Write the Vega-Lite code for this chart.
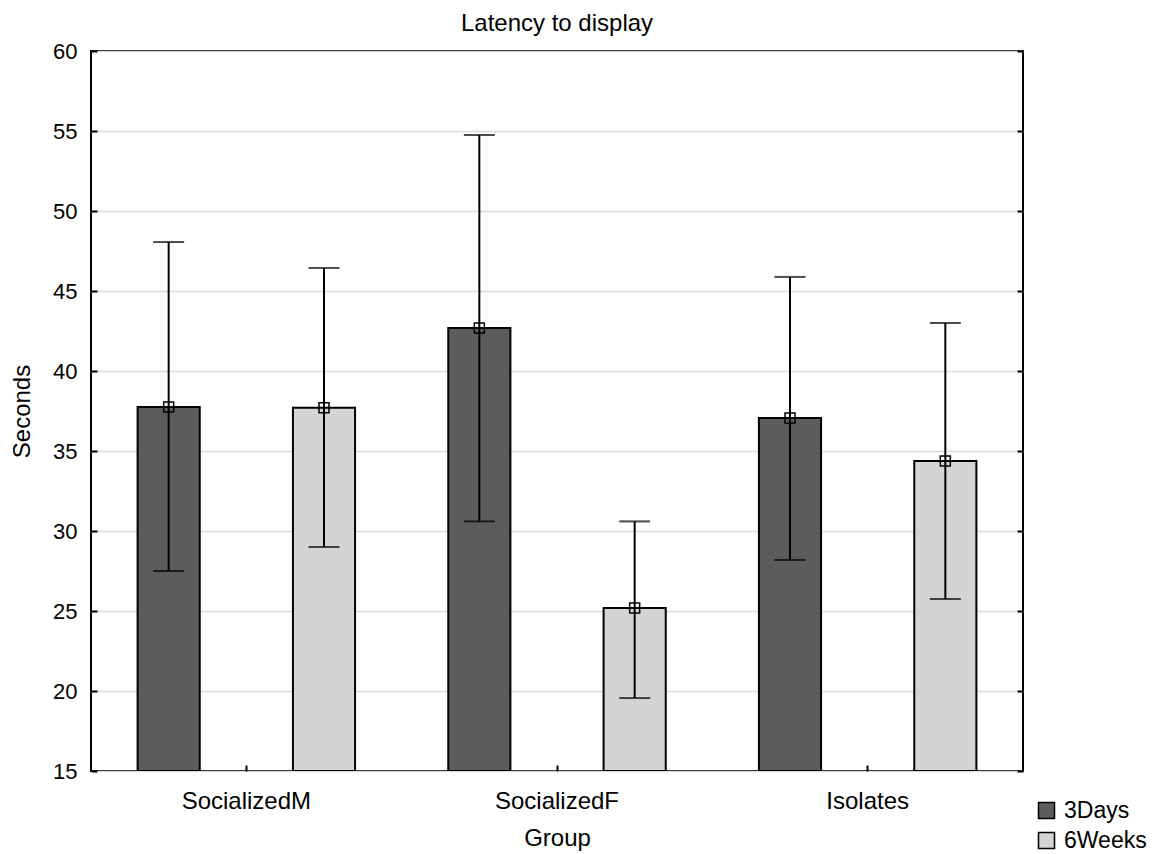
{
  "$schema": "https://vega.github.io/schema/vega-lite/v6.json",
  "width": 932,
  "height": 720,
  "autosize": "none",
  "padding": {"left": 91, "top": 51, "right": 135, "bottom": 83},
  "title": {"text": "Latency to display", "fontSize": 24, "font": "Liberation Sans", "fontWeight": "normal", "color": "#000000", "offset": 4, "anchor": "middle"},
  "config": {
    "font": "Liberation Sans",
    "view": {"stroke": "#000000", "strokeWidth": 2},
    "axis": {"labelFont": "Liberation Sans", "titleFont": "Liberation Sans", "labelColor": "#000000", "titleColor": "#000000", "labelFontSize": 22, "titleFontSize": 24, "titleFontWeight": "normal", "tickColor": "#000000", "tickWidth": 2, "domain": false}
  },
  "data": {
    "values": [
      {"group": "SocializedM", "time": "3Days", "mean": 37.75, "lo": 27.5, "hi": 48.06},
      {"group": "SocializedM", "time": "6Weeks", "mean": 37.7, "lo": 29.0, "hi": 46.44},
      {"group": "SocializedF", "time": "3Days", "mean": 42.69, "lo": 30.6, "hi": 54.75},
      {"group": "SocializedF", "time": "6Weeks", "mean": 25.19, "lo": 19.56, "hi": 30.6},
      {"group": "Isolates", "time": "3Days", "mean": 37.06, "lo": 28.19, "hi": 45.88},
      {"group": "Isolates", "time": "6Weeks", "mean": 34.38, "lo": 25.75, "hi": 43.0}
    ]
  },
  "encoding": {
    "x": {"field": "group", "type": "nominal", "sort": ["SocializedM", "SocializedF", "Isolates"], "scale": {"paddingInner": 0, "paddingOuter": 0}, "title": "Group",
      "axis": {"labelAngle": 0, "tickSize": -6, "labelPadding": 24, "titlePadding": 13, "grid": false, "labelFontSize": 24}},
    "xOffset": {"field": "time", "type": "nominal", "sort": ["3Days", "6Weeks"], "scale": {"paddingInner": 0.6, "paddingOuter": 0.3}}
  },
  "layer": [
    {
      "mark": {"type": "bar", "stroke": "#000000", "strokeWidth": 2, "clip": true},
      "encoding": {
        "y": {"field": "mean", "type": "quantitative", "scale": {"domain": [15, 60], "nice": false, "zero": false}, "title": "Seconds",
          "axis": {"values": [15, 20, 25, 30, 35, 40, 45, 50, 55, 60], "grid": true, "gridColor": "#dcdcdc", "gridWidth": 1.5, "tickSize": -6, "labelPadding": 20, "titlePadding": 18}},
        "y2": {"datum": 15},
        "fill": {"field": "time", "type": "nominal", "sort": ["3Days", "6Weeks"], "scale": {"range": ["#5c5c5c", "#d4d4d4"]},
          "legend": {"title": null, "orient": "none", "legendX": 944, "legendY": 748, "symbolType": "square", "symbolSize": 256, "symbolStrokeColor": "#000000", "symbolStrokeWidth": 1.5, "labelFontSize": 23, "labelColor": "#000000", "labelFont": "Liberation Sans", "rowPadding": 6, "labelOffset": 6}}
      }
    },
    {
      "mark": {"type": "rule", "stroke": "#000000", "strokeWidth": 2},
      "encoding": {
        "y": {"field": "lo", "type": "quantitative", "axis": {"orient": "right", "labels": false, "title": null, "grid": false, "tickSize": -6, "values": [15, 20, 25, 30, 35, 40, 45, 50, 55, 60]}},
        "y2": {"field": "hi"}
      }
    },
    {
      "mark": {"type": "tick", "color": "#000000", "size": 31, "thickness": 2},
      "encoding": {"y": {"field": "hi", "type": "quantitative", "axis": null}}
    },
    {
      "mark": {"type": "tick", "color": "#000000", "size": 31, "thickness": 2},
      "encoding": {"y": {"field": "lo", "type": "quantitative", "axis": null}}
    },
    {
      "mark": {"type": "point", "shape": "square", "size": 100, "filled": false, "stroke": "#000000", "strokeWidth": 1.5, "opacity": 1},
      "encoding": {"y": {"field": "mean", "type": "quantitative", "axis": null}}
    }
  ],
  "resolve": {"axis": {"y": "independent"}}
}
